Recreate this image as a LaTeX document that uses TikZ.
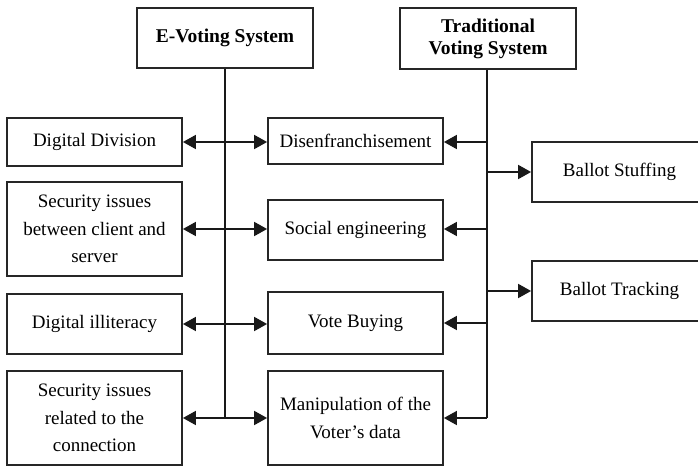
\documentclass[tikz,border=0pt]{standalone}
\usepackage{fontspec}
\setmainfont{Liberation Serif}
\usetikzlibrary{arrows.meta}
\tikzset{
  box/.style={draw=black!85, line width=1.8pt, fill=white, align=center, inner sep=2pt,
    font=\fontsize{19}{27.5}\selectfont},
  titlebox/.style={box, font=\fontsize{19.5}{22}\selectfont\bfseries},
  conn/.style={line width=1.8pt, draw=black!90},
  tip/.style={-{Triangle[length=13pt,width=14pt]}},
  tips/.style={{Triangle[length=13pt,width=14pt]}-{Triangle[length=13pt,width=14pt]}}
}
\begin{document}
\begin{tikzpicture}[x=1pt,y=-1pt]
\useasboundingbox (0,0) rectangle (698,468);
\clip (0,0) rectangle (698,468);
% titles
\node[titlebox, minimum width=176pt, minimum height=60pt] (ev) at (225,38) {E-Voting System};
\node[titlebox, minimum width=176pt, minimum height=61pt] (tv) at (488,38.5) {Traditional\\Voting System};
% left column
\node[box, minimum width=175pt, minimum height=48pt] (dd) at (94.5,142) {Digital Division};
\node[box, minimum width=175pt, minimum height=94pt] (sec1) at (94.5,229) {Security issues\\between client and\\server};
\node[box, minimum width=175pt, minimum height=60pt] (dil) at (94.5,324) {Digital illiteracy};
\node[box, minimum width=175pt, minimum height=94pt] (sec2) at (94.5,418) {Security issues\\related to the\\connection};
% middle column
\node[box, minimum width=175pt, minimum height=46pt] (dis) at (355.5,141) {Disenfranchisement};
\node[box, minimum width=175pt, minimum height=60pt] (soc) at (355.5,230) {Social engineering};
\node[box, minimum width=175pt, minimum height=62pt] (vb) at (355.5,323) {Vote Buying};
\node[box, minimum width=175pt, minimum height=94pt] (man) at (355.5,418) {Manipulation of the\\Voter's data};
% right column
\node[box, minimum width=175pt, minimum height=60pt] (bs) at (619.5,172) {Ballot Stuffing};
\node[box, minimum width=175pt, minimum height=60pt] (bt) at (619.5,291) {Ballot Tracking};
% left trunk
\draw[conn] (ev.south) -- (ev.south |- sec2.east);
\draw[conn, tips] (dd.east) -- (dd.east -| dis.west);
\draw[conn, tips] (sec1.east) -- (sec1.east -| soc.west);
\draw[conn, tips] (dil.east) -- (dil.east -| vb.west);
\draw[conn, tips] (sec2.east) -- (sec2.east -| man.west);
% right trunk
\coordinate (rt) at ([xshift=-1pt]tv.south);
\draw[conn] (rt) -- (rt |- man.east);
\draw[conn, tip] (rt |- dd.east) -- (dd.east -| dis.east);
\draw[conn, tip] (rt |- sec1.east) -- (sec1.east -| soc.east);
\draw[conn, tip] (rt |- vb.east) -- (vb.east);
\draw[conn, tip] (rt |- man.east) -- (man.east);
\draw[conn, tip] (rt |- bs.west) -- (bs.west);
\draw[conn, tip] (rt |- bt.west) -- (bt.west);
\end{tikzpicture}
\end{document}
